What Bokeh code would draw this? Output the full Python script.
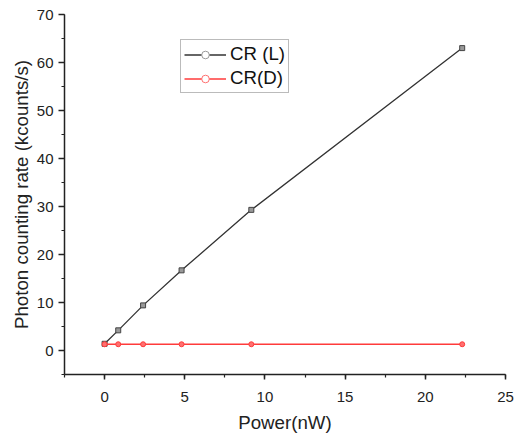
from bokeh.plotting import figure
from bokeh.models import Range1d, SingleIntervalTicker, Legend, LegendItem
from bokeh.embed import file_html
from bokeh.resources import INLINE

power_L = [0.0, 0.85, 2.4, 4.8, 9.15, 22.3]
cr_L = [1.4, 4.2, 9.4, 16.7, 29.3, 63.0]
power_D = [0.0, 0.85, 2.4, 4.8, 9.15, 22.3]
cr_D = [1.3, 1.3, 1.3, 1.3, 1.3, 1.3]

FONT = "Liberation Sans"
NAN = float("nan")

p = figure(output_backend="svg", toolbar_location=None,
           x_range=Range1d(-2.5, 25), y_range=Range1d(-5, 70))
p.frame_width = 441
p.frame_height = 360
p.min_border_left = 64
p.min_border_right = 12
p.min_border_top = 14
p.min_border_bottom = 50
p.outline_line_color = None
p.grid.visible = False

p.xaxis.ticker = SingleIntervalTicker(interval=5, num_minor_ticks=2)
p.yaxis.ticker = SingleIntervalTicker(interval=10, num_minor_ticks=2)
for ax in (p.xaxis, p.yaxis):
    ax.axis_line_width = 1.5
    ax.axis_line_color = "#222222"
    ax.major_tick_line_color = "#222222"
    ax.minor_tick_line_color = "#222222"
    ax.major_tick_line_width = 1.5
    ax.minor_tick_line_width = 1.2
    ax.major_tick_in = 0
    ax.minor_tick_in = 0
    ax.major_label_text_font = FONT
    ax.major_label_text_font_size = "15px"
    ax.major_label_text_color = "#222222"
    ax.axis_label_text_font = FONT
    ax.axis_label_text_font_size = "18.7px"
    ax.axis_label_text_font_style = "normal"
    ax.axis_label_text_color = "#222222"
p.yaxis.major_tick_out = 6
p.yaxis.minor_tick_out = 3
p.xaxis.major_tick_out = 5
p.xaxis.minor_tick_out = 3
p.xaxis.axis_label = "Power(nW)"
p.yaxis.axis_label = "Photon counting rate (kcounts/s)"
p.xaxis.major_label_standoff = 12
p.yaxis.major_label_standoff = 5
p.xaxis.axis_label_standoff = 7
p.yaxis.axis_label_standoff = 2

lL = p.line(power_L, cr_L, line_color="#333333", line_width=1.3)
mL = p.scatter(power_L, cr_L, marker="square", size=5, fill_color="#999999",
               line_color="#444444", line_width=1)
lD = p.line(power_D, cr_D, line_color="#ff3b3b", line_width=1.6)
mD = p.scatter(power_D, cr_D, marker="circle", size=5, fill_color="#ff7070",
               line_color="#ff3b3b", line_width=1)

legL_line = p.line([NAN], [NAN], line_color="#333333", line_width=1.3)
legL_mark = p.scatter([NAN], [NAN], marker="circle", size=5, fill_color="white",
                      line_color="#999999")
legD_line = p.line([NAN], [NAN], line_color="#ff3b3b", line_width=1.6)
legD_mark = p.scatter([NAN], [NAN], marker="circle", size=5, fill_color="white",
                      line_color="#ff7070")

legend = Legend(items=[LegendItem(label="CR (L)", renderers=[legL_line, legL_mark]),
                       LegendItem(label="CR(D)", renderers=[legD_line, legD_mark])],
                location=(116, 281))
legend.label_text_font = FONT
legend.label_text_font_size = "18.7px"
legend.label_text_color = "#111111"
legend.border_line_color = "#777777"
legend.border_line_width = 1.5
legend.background_fill_alpha = 1
legend.glyph_width = 42
legend.glyph_height = 19
legend.label_height = 19
legend.spacing = 2
legend.padding = 3
legend.margin = 0
legend.label_standoff = 4
p.add_layout(legend, "center")

open("out.html", "w").write(file_html(p, INLINE))
